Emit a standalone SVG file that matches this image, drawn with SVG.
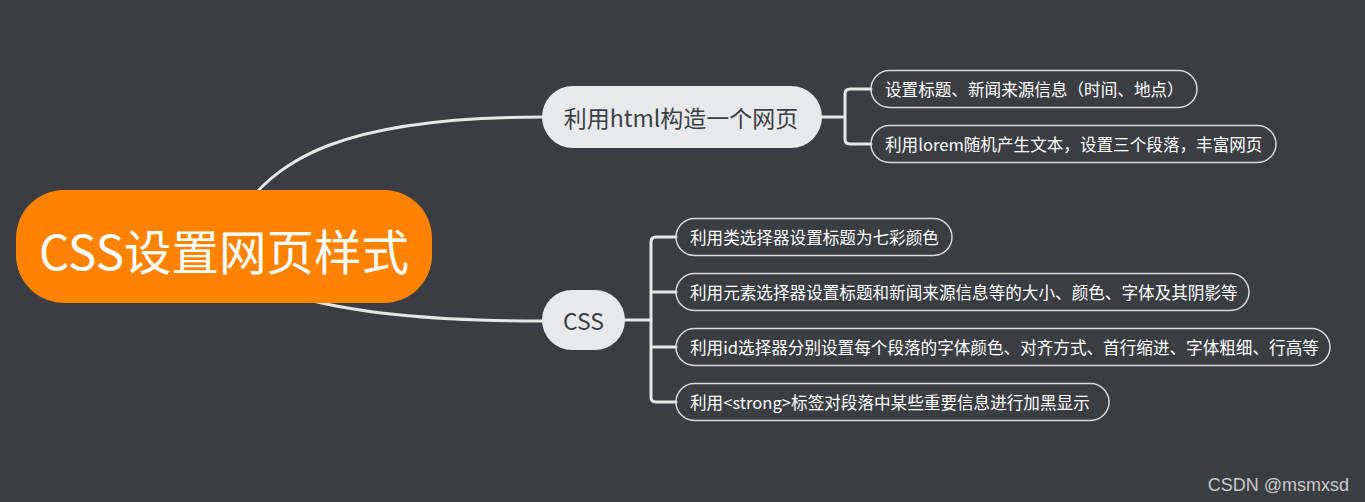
<svg xmlns="http://www.w3.org/2000/svg" width="1365" height="502" viewBox="0 0 1365 502">
<style>
text{font-family:"Noto Sans CJK SC","Noto Sans",sans-serif;}
.link{fill:none;stroke:#e6e6e6;stroke-width:3;stroke-linecap:round;}
.sub{fill:none;stroke:#d9d9d9;stroke-width:1.5;}
.subt{fill:#ffffff;font-size:16.6px;dominant-baseline:central;}
.mid{fill:#e8e9eb;}
.midt{fill:#3c3f44;font-size:23px;text-anchor:middle;dominant-baseline:central;}
</style>
<rect x="0" y="0" width="1365" height="502" fill="#3a3d42"/>
<g id="connectors">
<path class="link" d="M224 246 C260 150 360 117 542 117"/>
<path class="link" d="M224 246 C240 290 330 321 542 321"/>
<path class="link" d="M822 117 H845 M871 89 H850 Q845 89 845 94 V139 Q845 144 850 144 H871"/>
<path class="link" d="M625 320 H651 M676 237 H656 Q651 237 651 242 V397 Q651 402 656 402 H676 M651 292 H676 M651 347 H676"/>
</g>
<g id="root">
<rect x="16" y="190" width="416" height="113" rx="48" fill="#ff8300"/>
<text x="224" y="249" fill="#ffffff" font-size="47.5" text-anchor="middle" dominant-baseline="central">CSS设置网页样式</text>
</g>
<g id="html">
<rect class="mid" x="542" y="86" width="280" height="62" rx="31"/>
<text class="midt" x="681" y="117">利用html构造一个网页</text>
</g>
<g id="html-1">
<rect class="sub" x="871" y="70.5" width="326" height="37" rx="18.5"/>
<text class="subt" x="885" y="89">设置标题、新闻来源信息（时间、地点）</text>
</g>
<g id="html-2">
<rect class="sub" x="871" y="125.5" width="405" height="37" rx="18.5"/>
<text class="subt" x="885" y="144">利用lorem随机产生文本，设置三个段落，丰富网页</text>
</g>
<g id="css">
<rect class="mid" x="542" y="290" width="83" height="60" rx="30"/>
<text class="midt" x="583.5" y="320">CSS</text>
</g>
<g id="css-1">
<rect class="sub" x="676" y="218.5" width="276" height="37" rx="18.5"/>
<text class="subt" x="690" y="237">利用类选择器设置标题为七彩颜色</text>
</g>
<g id="css-2">
<rect class="sub" x="676" y="273.5" width="573" height="37" rx="18.5"/>
<text class="subt" x="690" y="292">利用元素选择器设置标题和新闻来源信息等的大小、颜色、字体及其阴影等</text>
</g>
<g id="css-3">
<rect class="sub" x="676" y="328.5" width="654" height="37" rx="18.5"/>
<text class="subt" x="690" y="347">利用id选择器分别设置每个段落的字体颜色、对齐方式、首行缩进、字体粗细、行高等</text>
</g>
<g id="css-4">
<rect class="sub" x="676" y="383.5" width="433" height="37" rx="18.5"/>
<text class="subt" x="690" y="402">利用&lt;strong&gt;标签对段落中某些重要信息进行加黑显示</text>
</g>
<text x="1349" y="491" fill="#c9c9c9" font-size="18" text-anchor="end" style="font-family:'Liberation Sans',Arial,sans-serif">CSDN @msmxsd</text>
</svg>
